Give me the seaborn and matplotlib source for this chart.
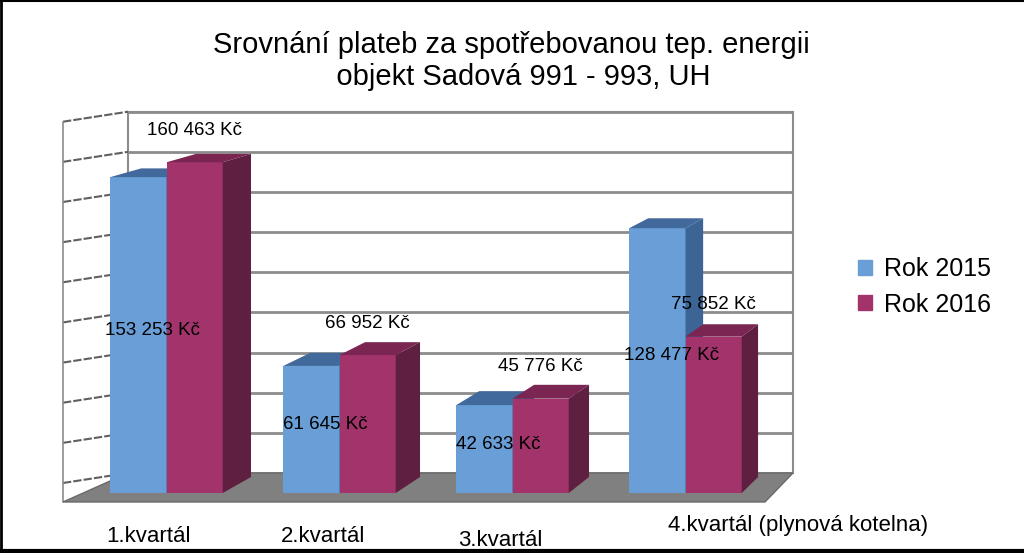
import numpy as np
import pandas as pd
import matplotlib
matplotlib.use('Agg')
import matplotlib.pyplot as plt
import seaborn as sns
from matplotlib.patches import Polygon, Patch
from matplotlib.lines import Line2D
from matplotlib.transforms import IdentityTransform

# ── data ──────────────────────────────────────
kvartaly = ['1.kvartál', '2.kvartál', '3.kvartál', '4.kvartál (plynová kotelna)']
roky = ['Rok 2015', 'Rok 2016']
platby_2015 = [153253, 61645, 42633, 128477]
platby_2016 = [160463, 66952, 45776, 75852]

df = pd.DataFrame({
    'kvartal': kvartaly * 2,
    'rok': [roky[0]] * 4 + [roky[1]] * 4,
    'platba': platby_2015 + platby_2016,
})

# ── style ─────────────────────────────────────
sns.set_style('white')
plt.rcParams['font.family'] = ['Liberation Sans', 'DejaVu Sans']
plt.rcParams['text.color'] = 'black'

W, H = 1024, 553
blue, blue_top, blue_side = '#6a9ed6', '#41699b', '#3c6494'
mag, mag_top, mag_side = '#a3336b', '#7a2552', '#5f1f40'
grid_c = '#8c8c8c'

def fx(px):
    return px / W

def fy(py):
    return 1 - py / H

fig = plt.figure(figsize=(W / 100, H / 100), dpi=100)

# back wall
ax_back = fig.add_axes([fx(128), fy(473), (793 - 128) / W, (473 - 111.7) / H])
ax_back.set_zorder(-2)
ax_back.set_ylim(0, 180000)
ax_back.set_yticks(np.arange(0, 180001, 20000))
ax_back.set_xticks([])
ax_back.tick_params(left=False, labelleft=False)
ax_back.yaxis.grid(True, color=grid_c, lw=2)
for s in ax_back.spines.values():
    s.set_color(grid_c)
    s.set_linewidth(1.5)
ax_back.spines['bottom'].set_visible(False)

# left wall lines + floor (pixel coords, y up)
def px(x, y):
    return (x, H - y)

ident = IdentityTransform()
for v in ax_back.get_yticks():
    yb = ax_back.transData.transform((0, v))[1]
    fig.add_artist(Line2D([63, 128], [yb - 10, yb], transform=ident,
                          color='#5f5f5f', lw=1.5, ls=(0, (4, 1)), zorder=-1))
fig.add_artist(Line2D([63, 63], [H - 121.7, H - 502], transform=ident,
                      color=grid_c, lw=1.2, zorder=-1))
fig.add_artist(Polygon([px(63, 502), px(765, 502), px(793, 473), px(128, 473)],
                       closed=True, transform=ident, facecolor='#808080',
                       edgecolor='#6a6a6a', lw=1, zorder=-1))

# front bars
ax = fig.add_axes([fx(80), fy(493), (772 - 80) / W, (493 - 111.7) / H])
ax.patch.set_alpha(0)
sns.barplot(data=df, x='kvartal', y='platba', hue='rok', palette=[blue, mag],
            width=0.65, saturation=1, legend=False, ax=ax, linewidth=0)
ax.set_xlim(-0.5, 3.5)
ax.set_ylim(0, 185000)
ax.axis('off')

# 3D faces, perspective toward a vanishing point
VP = np.array([1452.0, H + 203.0])
K = 0.977

def back(p):
    p = np.asarray(p, dtype=float)
    return VP + K * (p - VP)

faces = [(blue_top, blue_side), (mag_top, mag_side)]
for h, cont in enumerate(ax.containers):
    for bar in cont:
        bar.set_zorder(2 + h)
        bb = bar.get_window_extent()
        x0, x1, y0, y1 = bb.x0, bb.x1, bb.y0, bb.y1
        top = [(x0, y1), (x1, y1), back((x1, y1)), back((x0, y1))]
        side = [(x1, y0), (x1, y1), back((x1, y1)), back((x1, y0))]
        for pts, c in [(top, faces[h][0]), (side, faces[h][1])]:
            ax.add_patch(Polygon(pts, closed=True, transform=ident, facecolor=c,
                                 edgecolor='none', zorder=2 + h, clip_on=False))

def fmt(v):
    return f'{v:,}'.replace(',', ' ') + ' Kč'

# data labels
for bar, v in zip(ax.containers[0], platby_2015):
    cx = bar.get_x() + bar.get_width() / 2
    ax.annotate(fmt(v), (cx, v / 2), xytext=(14 * 0.72, 5 * 0.72),
                textcoords='offset points', ha='center', va='center',
                fontsize=13.5, zorder=10)
for bar, v in zip(ax.containers[1], platby_2016):
    cx = bar.get_x() + bar.get_width() / 2
    ax.annotate(fmt(v), (cx, v), xytext=(0, 32 * 0.72),
                textcoords='offset points', ha='center', va='center',
                fontsize=13.5, zorder=10)

# category labels
lab_dx = [-18, -16, -12, -17]
lab_dy = [-44, -44, -47, -32]
lab_ha = ['center', 'center', 'center', 'left']
for i, lab in enumerate(kvartaly):
    ax.annotate(lab, (i, 0), xytext=(lab_dx[i] * 0.72, lab_dy[i] * 0.72),
                textcoords='offset points', ha=lab_ha[i], va='center',
                fontsize=16, annotation_clip=False)

# title
fig.text(fx(511), fy(61), 'Srovnání plateb za spotřebovanou tep. energii\n   objekt Sadová 991 - 993, UH',
         ha='center', va='center', multialignment='center', fontsize=21,
         linespacing=1.15)

# legend
fig.legend(handles=[Patch(color=blue), Patch(color=mag)], labels=roky,
           loc='center left', bbox_to_anchor=(fx(845), fy(287)), frameon=False,
           fontsize=18, handlelength=0.56, handleheight=0.56,
           handletextpad=0.5, labelspacing=0.45, borderpad=0)

# frame lines of the original image
fig.add_artist(Line2D([0, 1], [1 - 1 / H, 1 - 1 / H], transform=fig.transFigure,
                      color='black', lw=1.5))
fig.add_artist(Line2D([1 / W, 1 / W], [0, 1], transform=fig.transFigure,
                      color='black', lw=2))
fig.add_artist(Line2D([0, 1], [2 / H, 2 / H], transform=fig.transFigure,
                      color='black', lw=3))

fig.savefig('out.png', dpi=100)
